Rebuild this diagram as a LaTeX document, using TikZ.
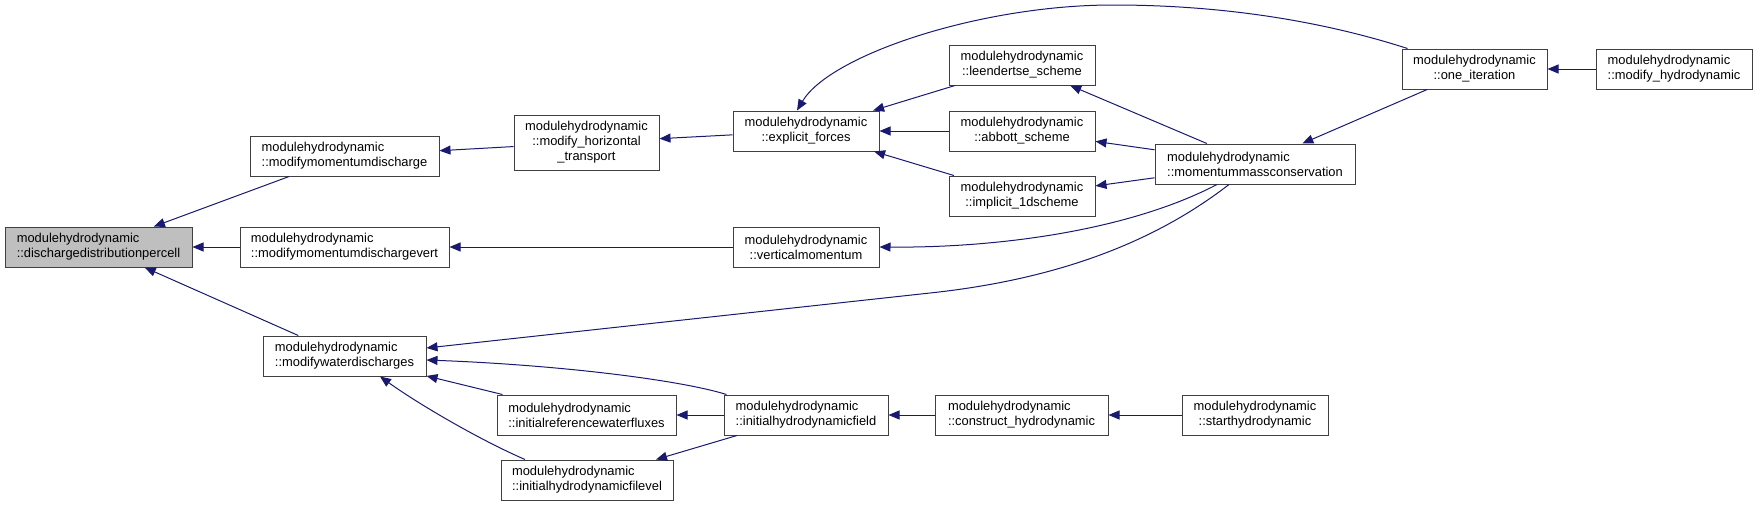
\documentclass[tikz,border=0pt]{standalone}
\usepackage{fontspec}
\setmainfont{Liberation Sans}
\usetikzlibrary{arrows.meta,calc}
\definecolor{edgeblue}{HTML}{191970}
\definecolor{boxrule}{HTML}{404040}
\definecolor{hlbg}{HTML}{BFBFBF}

\begin{document}
\begin{tikzpicture}[
  x=1pt, y=-1pt,
  font=\fontsize{12.9}{15}\selectfont,
  fn/.style={draw=boxrule, line width=1pt, fill=white, align=center,
             minimum height=40pt, inner sep=0pt},
  fnl/.style={fn, align=left},
  cur/.style={fnl, fill=hlbg},
  call/.style={{Triangle[length=11pt,width=9pt]}-, draw=edgeblue, line width=1pt},
]
\useasboundingbox (0,0) rectangle (1757,506);

% functions
\node[cur, minimum width=187pt] (ddp) at (98.5,247) {modulehydrodynamic\\::dischargedistributionpercell};
\node[fnl, minimum width=189pt] (mmd) at (344.5,156) {modulehydrodynamic\\::modifymomentumdischarge};
\node[fnl, minimum width=209pt] (mmdv) at (344.5,247) {modulehydrodynamic\\::modifymomentumdischargevert};
\node[fnl, minimum width=163pt] (mwd) at (344.5,356) {modulehydrodynamic\\::modifywaterdischarges};
\node[fn, minimum width=145pt, minimum height=55pt] (mht) at (586.5,142.5) {modulehydrodynamic\\::modify\_horizontal\\\_transport};
\node[fn, minimum width=146pt] (ef) at (806,131) {modulehydrodynamic\\::explicit\_forces};
\node[fn, minimum width=146pt] (vm) at (806,247) {modulehydrodynamic\\::verticalmomentum};
\node[fnl, minimum width=179pt] (irwf) at (586.5,415) {modulehydrodynamic\\::initialreferencewaterfluxes};
\node[fnl, minimum width=164pt] (ihf) at (806,415) {modulehydrodynamic\\::initialhydrodynamicfield};
\node[fnl, minimum width=172pt] (ihfl) at (587,480) {modulehydrodynamic\\::initialhydrodynamicfilevel};
\node[fn, minimum width=146pt] (ls) at (1022,65) {modulehydrodynamic\\::leendertse\_scheme};
\node[fn, minimum width=146pt] (ab) at (1022,131) {modulehydrodynamic\\::abbott\_scheme};
\node[fn, minimum width=146pt] (im) at (1022,196) {modulehydrodynamic\\::implicit\_1dscheme};
\node[fnl, minimum width=200pt] (mmc) at (1255,164) {modulehydrodynamic\\::momentummassconservation};
\node[fn, minimum width=145pt] (oi) at (1474.5,69) {modulehydrodynamic\\::one\_iteration};
\node[fnl, minimum width=156pt] (mh) at (1674,69) {modulehydrodynamic\\::modify\_hydrodynamic};
\node[fnl, minimum width=173pt] (ch) at (1021.5,415) {modulehydrodynamic\\::construct\_hydrodynamic};
\node[fn, minimum width=146pt] (sh) at (1255,415) {modulehydrodynamic\\::starthydrodynamic};

% calls
\draw[call] (ddp) -- (mmd);
\draw[call] (ddp) -- (mmdv);
\draw[call] (ddp) -- (mwd);
\draw[call] (mmd) -- (mht);
\draw[call] (mht) -- (ef);
\draw[call] ([xshift=-9pt]ef.north) .. controls (830,55) and (980,5) .. (1113,5)
  .. controls (1250,5) and (1350,30) .. ([xshift=6pt]oi.north west);
\draw[call] (ef) -- (ls);
\draw[call] (ef) -- (ab);
\draw[call] (ef) -- (im);
\draw[call] (ls) -- (mmc);
\draw[call] (ab) -- (mmc);
\draw[call] (im) -- (mmc);
\draw[call] (mmc) -- (oi);
\draw[call] (oi) -- (mh);
\draw[call] (mmdv) -- (vm);
\draw[call] (vm.east) .. controls (1000,248) and (1130,230) .. ([xshift=-38pt]mmc.south);
\draw[call] ([yshift=8pt]mwd.east) -- (930,293) .. controls (1080,277) and (1170,230) .. ([xshift=-26pt]mmc.south);
\draw[call] ([yshift=-4pt]mwd.east) .. controls (560,365) and (680,380) .. ([xshift=3pt]ihf.north west);
\draw[call] (mwd) -- (irwf);
\draw[call] ([xshift=35.5pt]mwd.south) .. controls (420,405) and (480,440) .. ([xshift=-62pt]ihfl.north);
\draw[call] (irwf) -- (ihf);
\draw[call] (ihfl) -- (ihf);
\draw[call] (ihf) -- (ch);
\draw[call] (ch) -- (sh);
\end{tikzpicture}
\end{document}
